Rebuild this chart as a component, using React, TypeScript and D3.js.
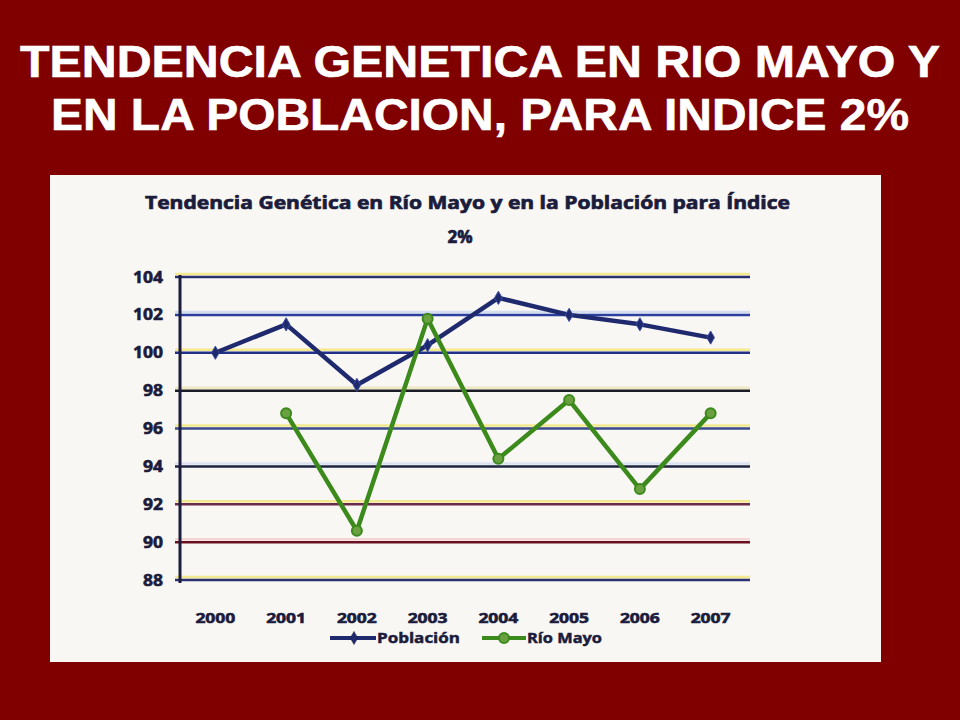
import { useEffect } from 'react'
import * as d3 from 'd3'

const years = ['2000', '2001', '2002', '2003', '2004', '2005', '2006', '2007']
const poblacion = [100.0, 101.5, 98.3, 100.4, 102.9, 102.0, 101.5, 100.8]
const rioMayo: (number | null)[] = [null, 96.8, 90.6, 101.8, 94.4, 97.5, 92.8, 96.8]
const yTicks = [104, 102, 100, 98, 96, 94, 92, 90, 88]

const slideTitle = ['TENDENCIA GENETICA EN RIO MAYO Y', 'EN LA POBLACION, PARA INDICE 2%']
const chartTitle = ['Tendencia Genética en Río Mayo y en la Población para Índice', '2%']

// the scan gives each gridline its own tint
const gridColors = ['#2a2f6e', '#2b3fa0', '#23308a', '#1c1c24', '#3a4a8a', '#1c2440', '#6a2a4a', '#6a1020', '#2a3070']
const gridHalo = ['#f2e24a', '#bcd0f0', '#f2e24a', '#e8e0a0', '#f2e24a', '#c8d4f0', '#f2e24a', '#f0c0c0', '#f2e24a']

const ink = '#1b1c3c'
const navy = '#1f2a6e'
const green = '#3d8a1c'

export default function App() {
  useEffect(() => {
    document.body.style.margin = '0'
  }, [])

  const margin = { top: 277, right: 746, bottom: 580, left: 180 }
  const x = d3.scalePoint(years, [margin.left, margin.right]).padding(0.5)
  const y = d3.scaleLinear([88, 104], [margin.bottom, margin.top])

  const line = d3
    .line<number | null>()
    .defined((d) => d != null)
    .x((_, i) => x(years[i])!)
    .y((d) => y(d as number))

  const diamond = d3.symbol(d3.symbolDiamond, 50)()

  return (
    <svg width={960} height={720} style={{ display: 'block' }}>
      <rect width={960} height={720} fill="#800000" />
      <g fill="#fff" stroke="#fff" strokeWidth={0.6} fontFamily="'Liberation Sans', Arial, sans-serif" fontWeight="bold" fontSize={45}>
        <text x={20} y={77} textLength={920} lengthAdjust="spacingAndGlyphs">{slideTitle[0]}</text>
        <text x={51} y={130} textLength={858} lengthAdjust="spacingAndGlyphs">{slideTitle[1]}</text>
      </g>

      <rect x={50} y={175} width={831} height={487} fill="#f8f7f4" />

      <g fill={ink} stroke={ink} strokeWidth={0.7} fontFamily="'Open Sans', 'DejaVu Sans', sans-serif" fontWeight="bold" fontSize={18}>
        <text x={145} y={209} textLength={645} lengthAdjust="spacingAndGlyphs">{chartTitle[0]}</text>
        <text x={460} y={243} textAnchor="middle" fontSize={17}>{chartTitle[1]}</text>
      </g>

      {/* gridlines */}
      <g>
        {yTicks.map((t, i) => (
          <g key={t}>
            <line x1={175} x2={750} y1={y(t) - 3} y2={y(t) - 3} stroke={gridHalo[i]} strokeWidth={2.5} opacity={0.6} />
            <line x1={175} x2={750} y1={y(t)} y2={y(t)} stroke={gridColors[i]} strokeWidth={2.5} />
          </g>
        ))}
      </g>
      <line x1={margin.left} x2={margin.left} y1={y(104) - 2} y2={y(88) + 3} stroke={ink} strokeWidth={3} />

      <g fill={ink} stroke={ink} strokeWidth={0.6} fontFamily="'Open Sans', 'DejaVu Sans', sans-serif" fontWeight="bold" fontSize={16} textAnchor="end">
        {yTicks.map((t) => (
          <text key={t} x={163} y={y(t)} dy="0.35em" textLength={t >= 100 ? 30 : 20} lengthAdjust="spacingAndGlyphs">
            {t}
          </text>
        ))}
      </g>

      <g fill={ink} stroke={ink} strokeWidth={0.6} fontFamily="'Open Sans', 'DejaVu Sans', sans-serif" fontWeight="bold" fontSize={15} textAnchor="middle">
        {years.map((yr) => (
          <text key={yr} x={x(yr)} y={623} textLength={40} lengthAdjust="spacingAndGlyphs">
            {yr}
          </text>
        ))}
      </g>

      {/* series */}
      <path d={line(poblacion)!} fill="none" stroke={navy} strokeWidth={4.5} strokeLinejoin="round" />
      {poblacion.map((v, i) => (
        <path key={i} d={diamond!} transform={`translate(${x(years[i])},${y(v)})`} fill={navy} stroke="#3a4aa0" strokeWidth={1} />
      ))}
      <path d={line(rioMayo)!} fill="none" stroke={green} strokeWidth={4.5} strokeLinejoin="round" />
      {rioMayo.map((v, i) =>
        v == null ? null : (
          <circle key={i} cx={x(years[i])} cy={y(v)} r={5} fill="#6aa040" stroke={green} strokeWidth={2} />
        )
      )}

      {/* legend */}
      <g fontFamily="'Open Sans', 'DejaVu Sans', sans-serif" fontWeight="bold" fontSize={15} fill={ink} stroke={ink} strokeWidth={0.5}>
        <line x1={330} x2={376} y1={638} y2={638} stroke={navy} strokeWidth={4} />
        <path d={diamond!} transform="translate(354,638)" fill={navy} />
        <text x={377} y={638} dy="0.35em" textLength={83} lengthAdjust="spacingAndGlyphs">Población</text>
        <line x1={482} x2={526} y1={638} y2={638} stroke={green} strokeWidth={4} />
        <circle cx={504} cy={638} r={5} fill="#6aa040" stroke={green} strokeWidth={2} />
        <text x={527} y={638} dy="0.35em" textLength={75} lengthAdjust="spacingAndGlyphs">Río Mayo</text>
      </g>
    </svg>
  )
}
